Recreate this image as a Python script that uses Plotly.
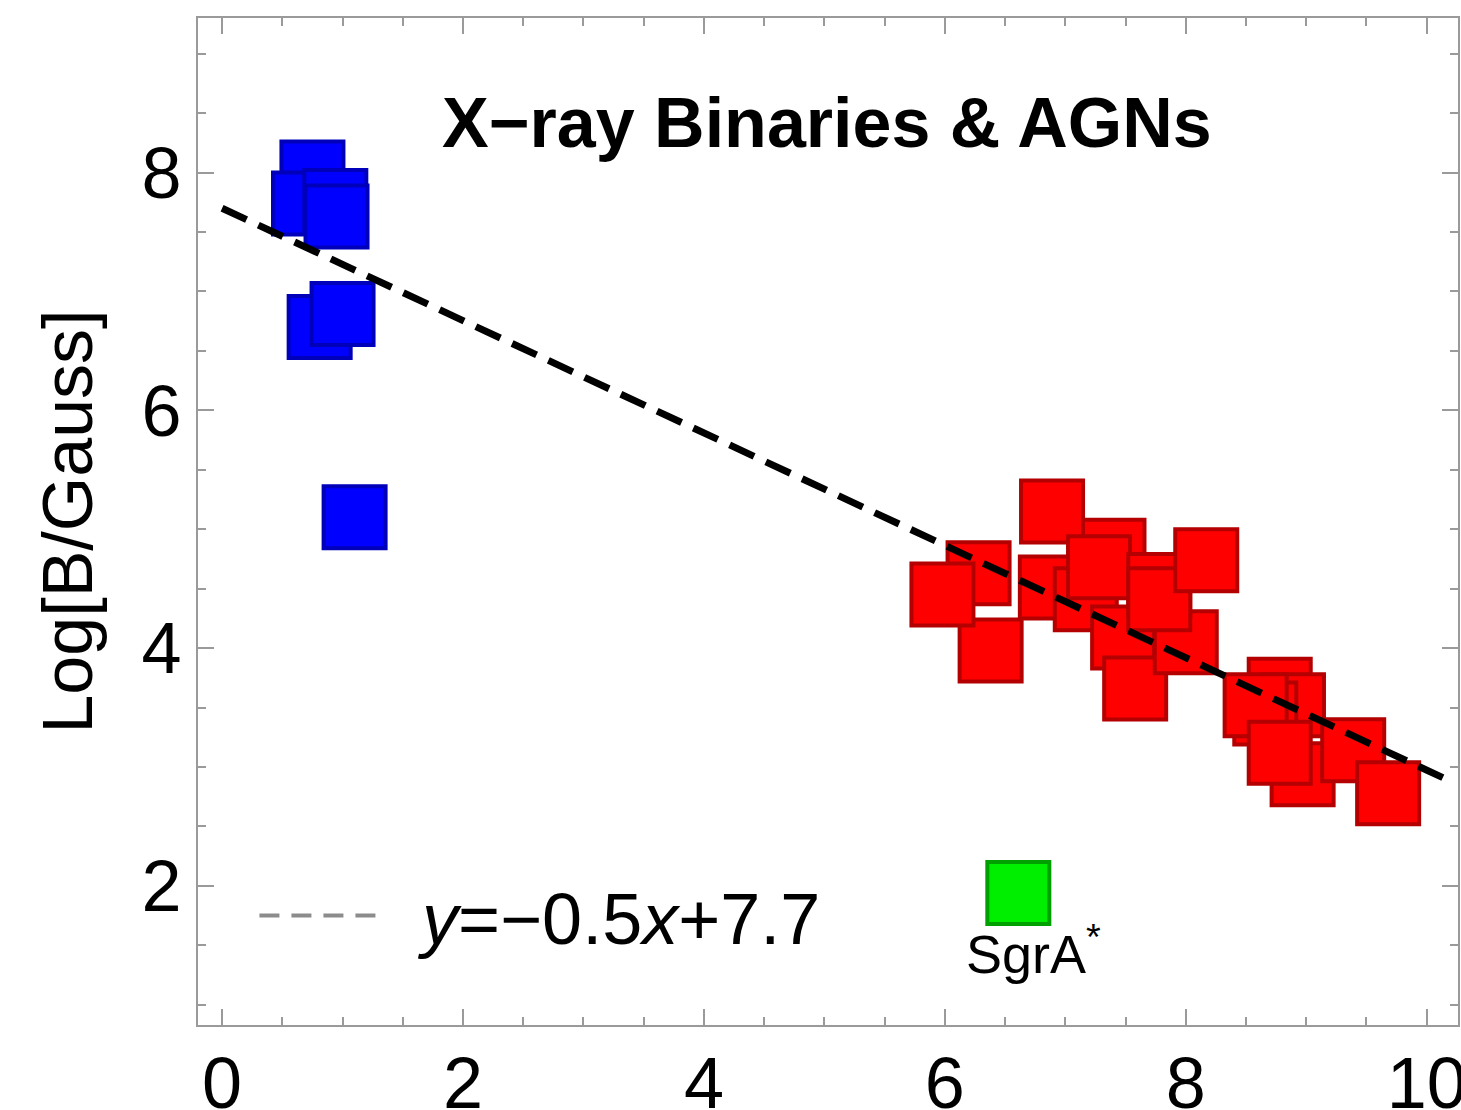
import plotly.graph_objects as go

# ---- data ----
xrb_x = [0.75, 0.68, 0.94, 0.95, 0.81, 1.00, 1.10]
xrb_y = [8.00, 7.74, 7.76, 7.63, 6.70, 6.81, 5.10]

agn_x = [7.40, 6.89, 6.88, 7.17, 7.28, 6.28, 6.38, 5.98, 7.48, 7.58, 8.00,
         7.78, 7.78, 8.17, 8.78, 8.89, 8.66, 8.58, 8.97, 8.78, 9.39, 9.68]
agn_y = [4.82, 5.15, 4.51, 4.41, 4.68, 4.63, 3.98, 4.45, 4.09, 3.66, 4.05,
         4.53, 4.41, 4.74, 3.65, 3.52, 3.45, 3.52, 2.94, 3.12, 3.14, 2.78]

sgra_x = [6.61]
sgra_y = [1.94]

fit_x = [0.0, 10.22]
fit_y = [7.70, 2.87]

x_ticks = [0, 2, 4, 6, 8, 10]
y_ticks = [2, 4, 6, 8]

FONT = "Liberation Sans, Arial, sans-serif"
AXC = "#9a9a9a"

fig = go.Figure()

fig.add_trace(go.Scatter(
    x=xrb_x, y=xrb_y, mode="markers",
    marker=dict(symbol="square", size=62, color="#0000ff",
                line=dict(color="#0000bb", width=4)),
    showlegend=False))

fig.add_trace(go.Scatter(
    x=agn_x, y=agn_y, mode="markers",
    marker=dict(symbol="square", size=62, color="#ff0000",
                line=dict(color="#b40000", width=4)),
    showlegend=False))

fig.add_trace(go.Scatter(
    x=sgra_x, y=sgra_y, mode="markers",
    marker=dict(symbol="square", size=62, color="#00ee00",
                line=dict(color="#00a000", width=4)),
    showlegend=False))

fig.add_trace(go.Scatter(
    x=fit_x, y=fit_y, mode="lines",
    line=dict(color="black", width=7, dash="27px,13px"),
    showlegend=False))

# legend-like dashed sample line
fig.add_shape(type="line", xref="x", yref="y", x0=0.31, x1=1.37, y0=1.75, y1=1.75,
              line=dict(color="#8c8c8c", width=4, dash="20px,12px"))

fig.add_annotation(x=1.60, y=1.72, xref="x", yref="y", xanchor="left", yanchor="middle",
                   text="<i>y</i>=−0.5<i>x</i>+7.7", showarrow=False,
                   font=dict(family=FONT, size=72, color="black"))

fig.add_annotation(x=6.74, y=1.46, xref="x", yref="y", xanchor="center", yanchor="middle",
                   text="SgrA<sup>*</sup>", showarrow=False,
                   font=dict(family=FONT, size=54, color="black"))

fig.add_annotation(x=5.02, y=8.42, xref="x", yref="y", xanchor="center", yanchor="middle",
                   text="<b>X−ray Binaries &amp; AGNs</b>", showarrow=False,
                   font=dict(family=FONT, size=70, color="black"))

axis_common = dict(
    showline=True, linecolor=AXC, linewidth=2, mirror="allticks",
    ticks="inside", ticklen=16, tickwidth=2, tickcolor=AXC,
    showgrid=False, zeroline=False, automargin=False,
    ticklabeloverflow="allow",
    tickfont=dict(family=FONT, size=72, color="black"),
    minor=dict(ticks="inside", dtick=0.5, ticklen=8, tickwidth=1.5, tickcolor=AXC, showgrid=False),
)

fig.update_layout(
    width=1461, height=1110, autosize=False,
    margin=dict(l=198, r=3, t=18, b=85, pad=0),
    paper_bgcolor="white", plot_bgcolor="white",
    xaxis=dict(range=[-0.2, 10.26], tickvals=x_ticks, ticktext=[str(v) for v in x_ticks],
               ticklabelstandoff=-5, **axis_common),
    yaxis=dict(range=[0.83, 9.30], tickvals=y_ticks, ticktext=[str(v) for v in y_ticks],
               ticklabelstandoff=0,
               title=dict(text="Log[B/Gauss]", font=dict(family=FONT, size=70, color="black"),
                          standoff=26),
               **axis_common),
)

fig.write_html("out.html")
